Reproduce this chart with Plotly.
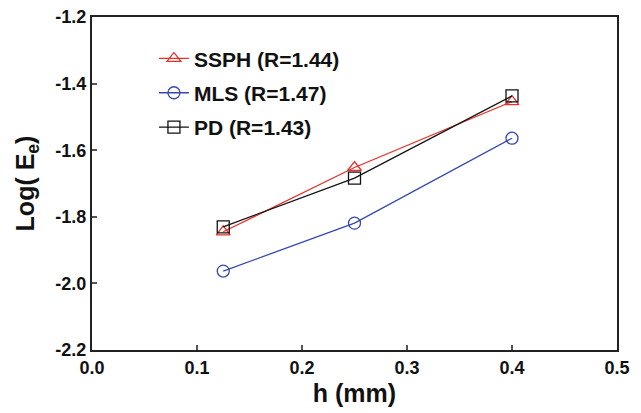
import plotly.graph_objects as go

h_values = [0.125, 0.25, 0.4]
ssph_log_err = [-1.845, -1.652, -1.454]
mls_log_err = [-1.963, -1.819, -1.564]
pd_log_err = [-1.830, -1.684, -1.437]

x_ticks = [0, 0.1, 0.2, 0.3, 0.4, 0.5]
x_tick_labels = ["0.0", "0.1", "0.2", "0.3", "0.4", "0.5"]
y_ticks = [-2.2, -2.0, -1.8, -1.6, -1.4, -1.2]
y_tick_labels = ["-2.2", "-2.0", "-1.8", "-1.6", "-1.4", "-1.2"]

series = [
    ("SSPH (R=1.44)", ssph_log_err, "#e8302a", "triangle-up-open"),
    ("MLS (R=1.47)", mls_log_err, "#3548ad", "circle-open"),
    ("PD (R=1.43)", pd_log_err, "#111111", "square-open"),
]

FONT = "Liberation Sans, Arial, sans-serif"

fig = go.Figure()
for name, vals, color, symbol in series:
    fig.add_trace(
        go.Scatter(
            x=h_values,
            y=vals,
            mode="lines+markers",
            name=name,
            legendgroup=name,
            line=dict(color=color, width=1.3),
            marker=dict(symbol=symbol, size=12, color=color, line=dict(width=1.3, color=color)),
        )
    )

axis_common = dict(
    showline=True,
    linecolor="#222222",
    linewidth=2,
    mirror=True,
    ticks="inside",
    ticklen=5,
    tickwidth=2,
    tickcolor="#555555",
    showgrid=False,
    zeroline=False,
    automargin=False,
    ticklabeloverflow="allow",
    tickfont=dict(family=FONT, size=18, color="#111111", weight="bold"),
)

# page body has an 8px margin, so the margins below are offset by it
fig.update_layout(
    width=641,
    height=413,
    margin=dict(l=84, r=32, t=9, b=71),
    paper_bgcolor="white",
    plot_bgcolor="white",
    showlegend=True,
    legend=dict(
        x=0.118,
        y=0.936,
        xanchor="left",
        yanchor="top",
        bgcolor="rgba(0,0,0,0)",
        font=dict(family=FONT, size=21, color="#111111", weight="bold"),
        itemwidth=30,
        tracegroupgap=4,
    ),
    xaxis=dict(
        range=[0, 0.5],
        tickvals=x_ticks,
        ticktext=x_tick_labels,
        title=dict(text="h (mm)", font=dict(family=FONT, size=25, color="#111111", weight="bold"), standoff=8),
        **axis_common,
    ),
    yaxis=dict(
        range=[-2.2, -1.2],
        tickvals=y_ticks,
        ticktext=y_tick_labels,
        title=dict(text="Log( E<sub>e</sub>)", font=dict(family=FONT, size=25, color="#111111", weight="bold"), standoff=14),
        **axis_common,
    ),
)

fig.write_html("out.html")
